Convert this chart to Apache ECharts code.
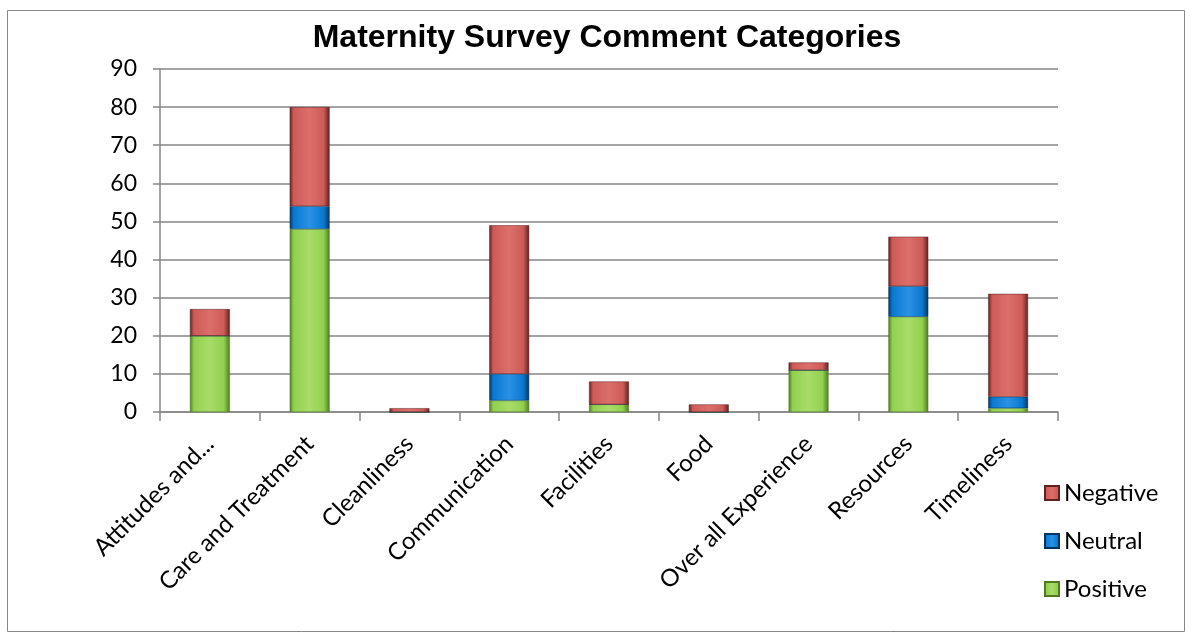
<!DOCTYPE html>
<html>
<head>
<meta charset="utf-8">
<script src="https://cdn.jsdelivr.net/npm/echarts@6/dist/echarts.min.js"></script>
<style>
  html, body { margin: 0; padding: 0; background: #fff; }
  #main { width: 1192px; height: 637px; }
</style>
</head>
<body>
<div id="main"></div>
<script>
// survey data
var categories = ['Attitudes and...', 'Care and Treatment', 'Cleanliness', 'Communication',
  'Facilities', 'Food', 'Over all Experience', 'Resources', 'Timeliness']
var positive = [20, 48, 0, 3, 2, 0, 11, 25, 1]
var neutral  = [0, 6, 0, 7, 0, 0, 0, 8, 3]
var negative = [7, 26, 1, 39, 6, 2, 2, 13, 27]
var yTicks = [0, 10, 20, 30, 40, 50, 60, 70, 80, 90]

var chart = echarts.init(document.getElementById('main'))

// rough bevel look: dark edges, flat middle
function bevel(light, mid, dark) {
  return new echarts.graphic.LinearGradient(0, 0, 1, 0, [
    { offset: 0, color: dark },
    { offset: 0.1, color: mid },
    { offset: 0.5, color: light },
    { offset: 0.85, color: mid },
    { offset: 1, color: dark }
  ])
}

function makeSeries(name, data, colors) {
  return {
    name: name,
    type: 'bar',
    stack: 'all',
    barWidth: '40%',
    data: data,
    itemStyle: {
      color: bevel(colors[0], colors[1], colors[2]),
      borderColor: colors[2],
      borderWidth: 0.5
    }
  }
}

var option = {
  backgroundColor: '#fff',
  animation: false,
  title: {
    text: 'Maternity Survey Comment Categories',
    left: 602,
    textAlign: 'center',
    top: 17,
    textStyle: { fontFamily: 'Liberation Sans', fontSize: 32, fontWeight: 'bold', color: '#000' }
  },
  graphic: [{
    type: 'rect',
    shape: { x: 7.5, y: 10.5, width: 1177, height: 621 },
    style: { fill: 'none', stroke: '#868686', lineWidth: 1 },
    silent: true
  }],
  grid: { left: 160, right: 134, top: 69, bottom: 225 },
  legend: {
    orient: 'vertical',
    left: 1044,
    top: 481,
    padding: 0,
    itemWidth: 14,
    itemHeight: 14,
    itemGap: 24,
    icon: 'rect',
    data: ['Negative', 'Neutral', 'Positive'],
    textStyle: { fontFamily: 'Lato', fontSize: 24, color: '#000' }
  },
  xAxis: {
    type: 'category',
    data: categories,
    axisLine: { lineStyle: { color: '#868686', width: 1.5 } },
    axisTick: { show: true, alignWithLabel: false, length: 9, lineStyle: { color: '#868686', width: 1.5 } },
    axisLabel: {
      rotate: 45,
      interval: 0,
      margin: 28,
      fontFamily: 'Lato',
      fontSize: 24,
      color: '#000'
    }
  },
  yAxis: {
    type: 'value',
    min: yTicks[0],
    max: yTicks[yTicks.length - 1],
    interval: 10,
    axisLine: { show: true, lineStyle: { color: '#868686', width: 1.5 } },
    axisTick: { show: true, length: 7, lineStyle: { color: '#868686', width: 1.5 } },
    splitLine: { lineStyle: { color: '#868686', width: 1.5 } },
    axisLabel: { fontFamily: 'Lato', fontSize: 23, color: '#000', margin: 23 }
  },
  series: [
    makeSeries('Positive', positive, ['#a8dc68', '#92D050', '#4f7a22']),
    makeSeries('Neutral', neutral, ['#2a92e6', '#0A78D0', '#06345e']),
    makeSeries('Negative', negative, ['#dc6f6b', '#CD5B57', '#5e2221'])
  ]
}

chart.setOption(option)
</script>
</body>
</html>
